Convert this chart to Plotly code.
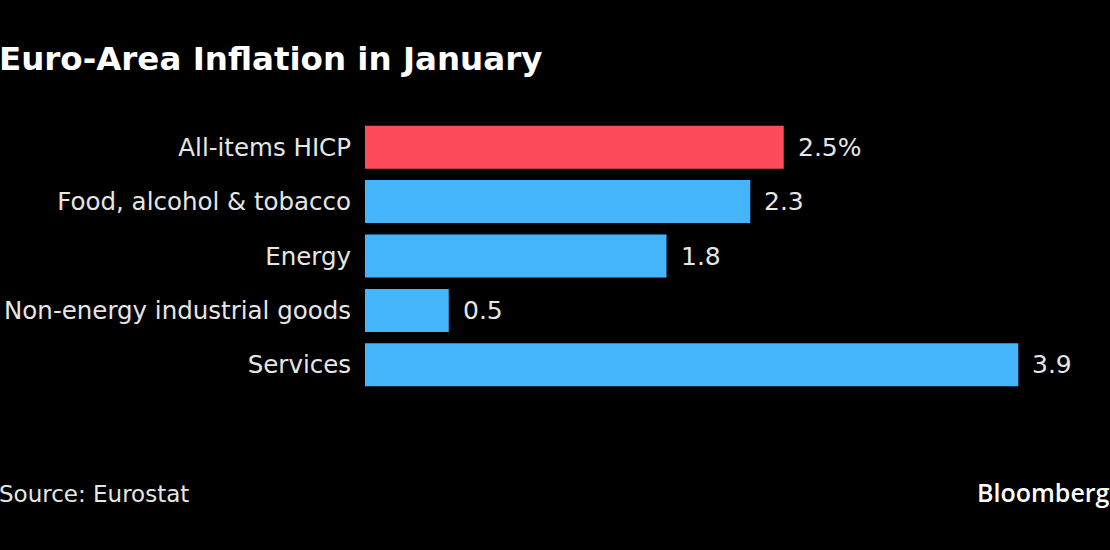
import plotly.graph_objects as go

categories = ["All-items HICP", "Food, alcohol & tobacco", "Energy",
              "Non-energy industrial goods", "Services"]
values = [2.5, 2.3, 1.8, 0.5, 3.9]
value_labels = ["2.5%", "2.3", "1.8", "0.5", "3.9"]
bar_colors = ["#fd4b5b", "#44b5fa", "#44b5fa", "#44b5fa", "#44b5fa"]

FONT = "DejaVu Sans"
TXT = "#e6e6e6"

fig = go.Figure(go.Bar(
    x=values, y=categories, orientation="h",
    marker=dict(color=bar_colors, line=dict(width=0)),
    hoverinfo="skip",
))

annotations = []
for v, lab, c in zip(values, value_labels, categories):
    annotations.append(dict(x=v, y=c, xref="x", yref="y", text=lab,
                            showarrow=False, xanchor="left", yanchor="middle",
                            xshift=12, font=dict(family=FONT, size=25, color=TXT)))

ML, MR, MT, MB = 365, 8, 120, 158
px_w = 1110 - ML - MR
px_h = 550 - MT - MB

def px(xp, yp):
    return (xp - ML) / px_w, (550 - MB - yp) / px_h

tx, ty = px(-3, 59)
annotations.append(dict(x=tx, y=ty, xref="paper", yref="paper",
                        text="<b>Euro-Area Inflation in January</b>",
                        showarrow=False, xanchor="left", yanchor="middle",
                        font=dict(family=FONT, size=32.5, color="#ffffff")))
sx, sy = px(-3, 494)
annotations.append(dict(x=sx, y=sy, xref="paper", yref="paper",
                        text="Source: Eurostat",
                        showarrow=False, xanchor="left", yanchor="middle",
                        font=dict(family=FONT, size=23, color=TXT)))
bx, by = px(1112, 492)
annotations.append(dict(x=bx, y=by, xref="paper", yref="paper",
                        text="Bloomberg",
                        showarrow=False, xanchor="right", yanchor="middle",
                        font=dict(family="Open Sans", size=25, weight=600, color="#ffffff")))

fig.update_layout(
    width=1110, height=550,
    paper_bgcolor="#000000", plot_bgcolor="#000000",
    margin=dict(l=ML, r=MR, t=MT, b=MB, autoexpand=False),
    bargap=0.21,
    showlegend=False,
    xaxis=dict(range=[0, 4.4], visible=False, fixedrange=True, automargin=False),
    yaxis=dict(autorange="reversed", showgrid=False, zeroline=False, automargin=False,
               showline=False, ticks="", ticklabelstandoff=13,
               tickfont=dict(family=FONT, size=24.5, color=TXT), fixedrange=True),
    annotations=annotations,
)

fig.write_html("out.html", config={"displayModeBar": False})
